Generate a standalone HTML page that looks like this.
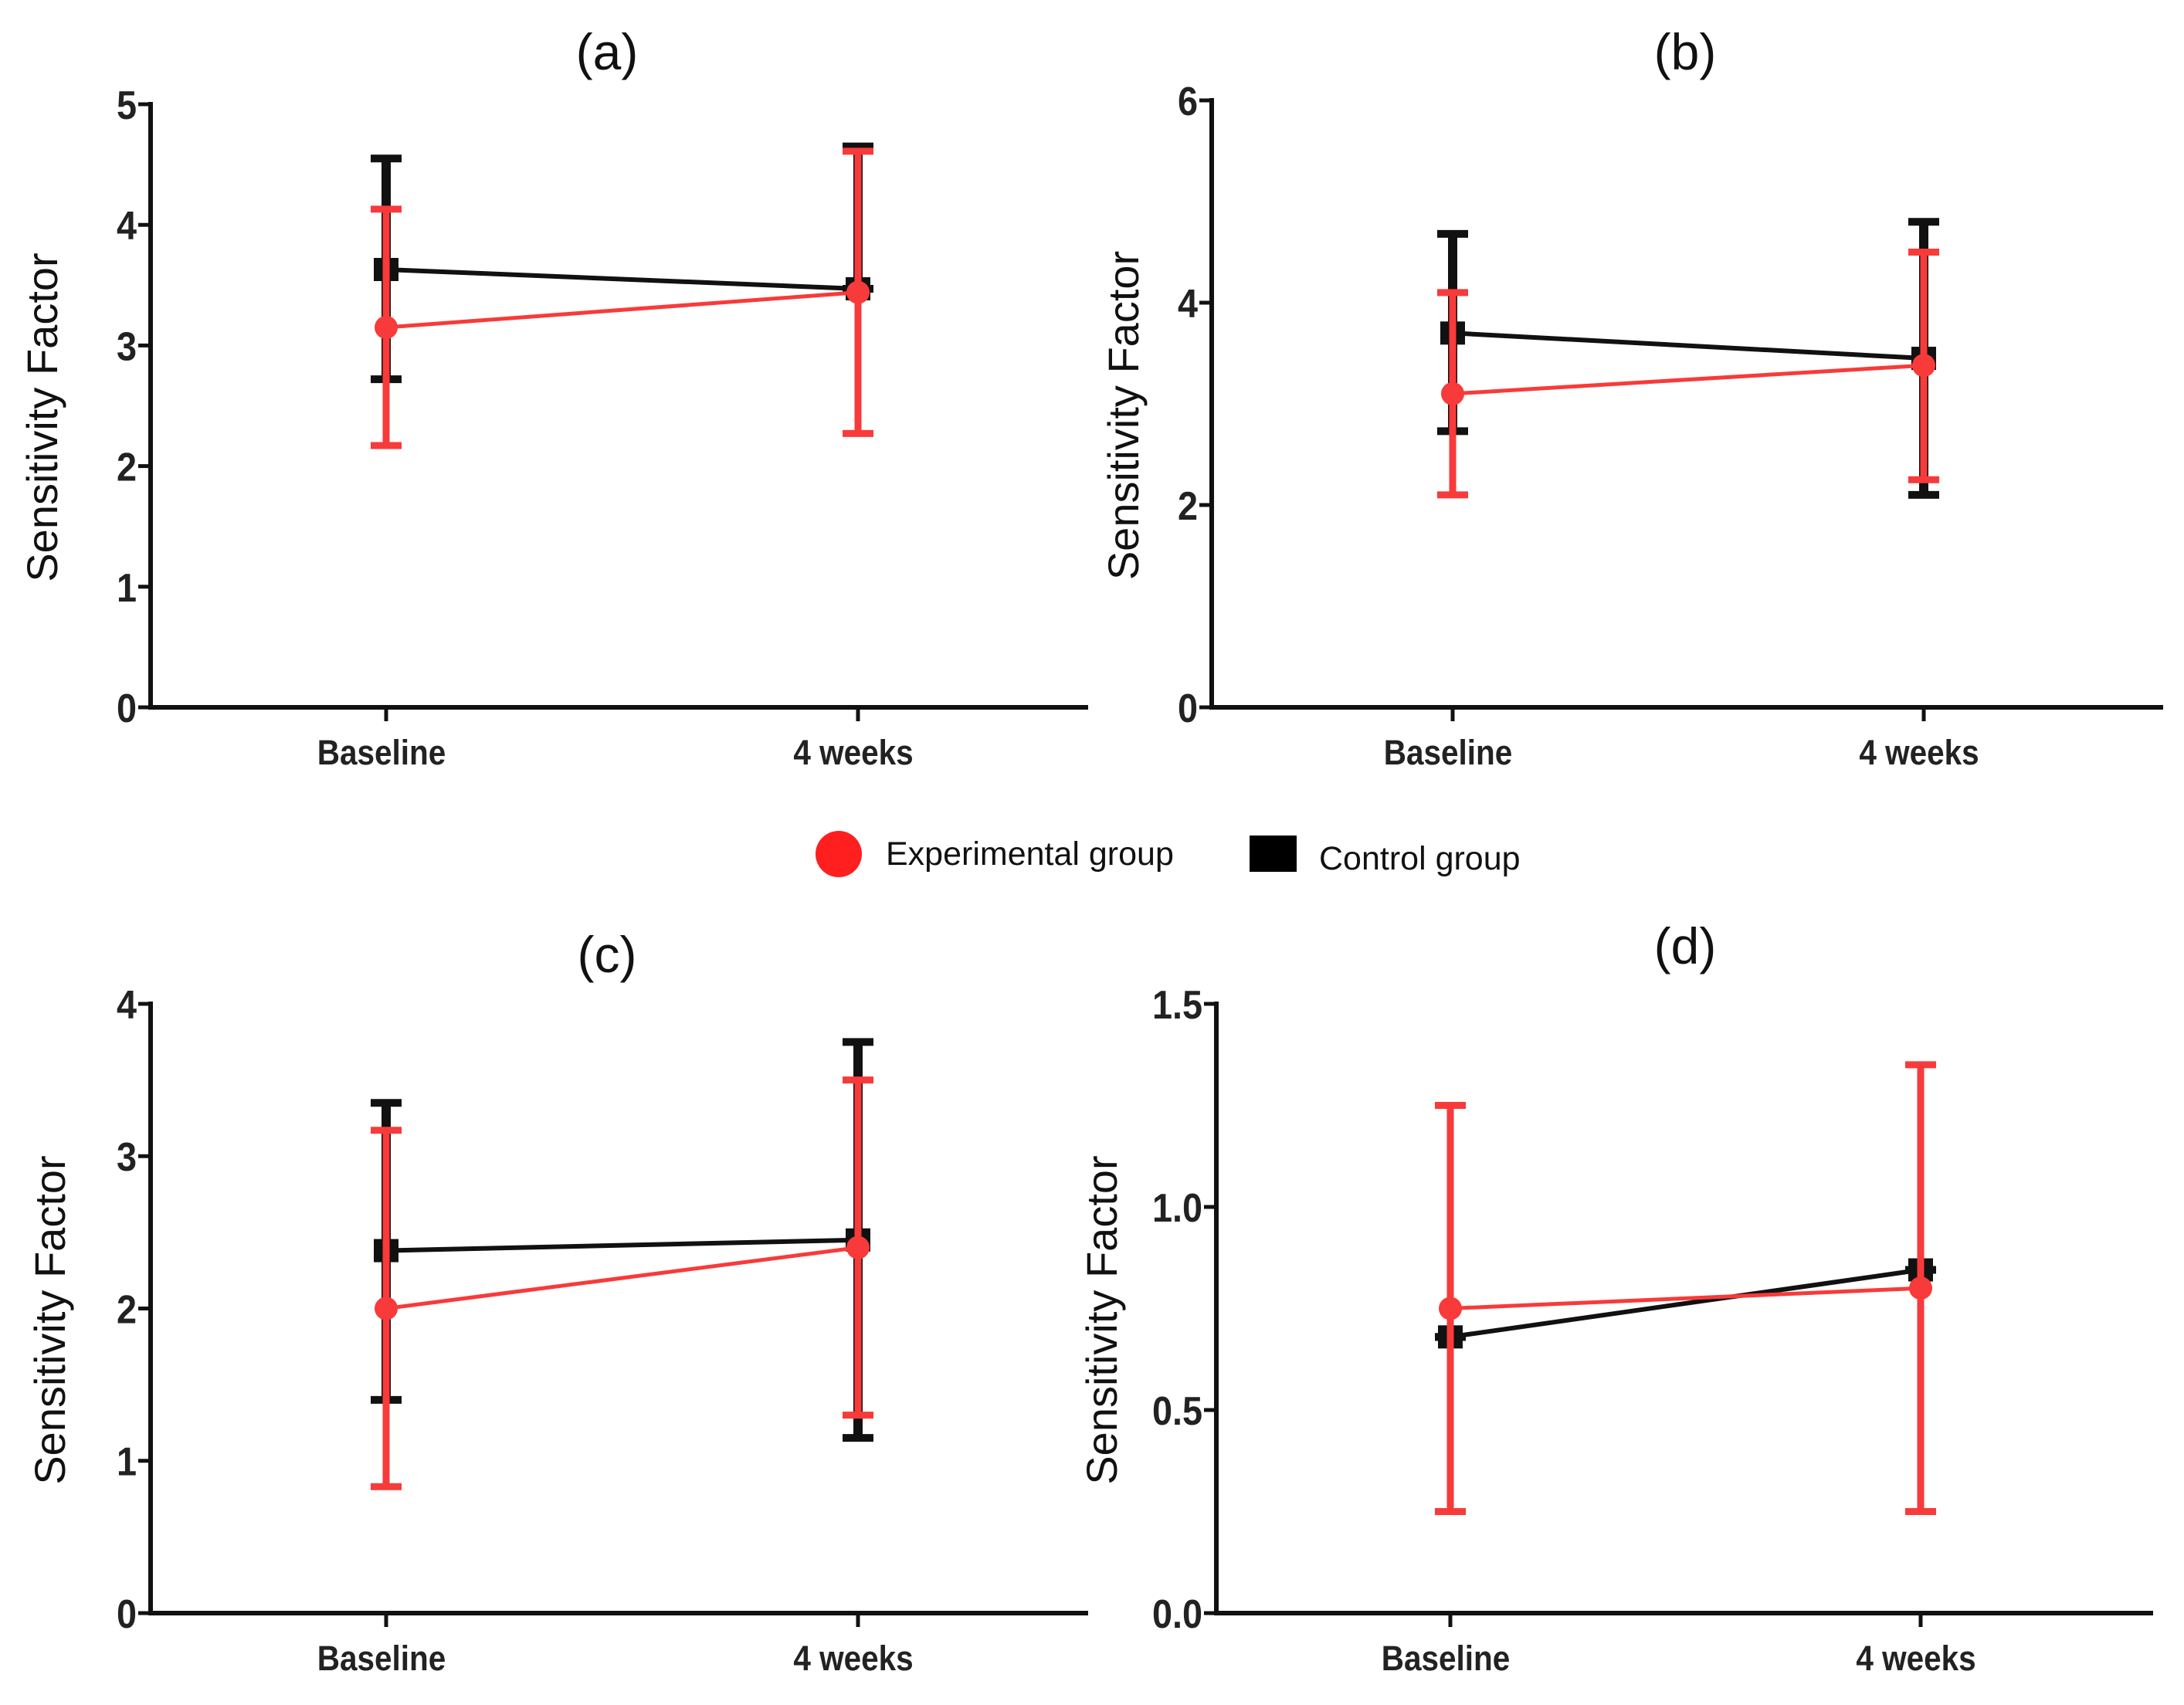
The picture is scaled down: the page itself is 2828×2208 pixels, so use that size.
<!DOCTYPE html>
<html><head><meta charset="utf-8"><style>
html,body{margin:0;padding:0;background:#fff;}
svg{display:block;}
text{font-family:"Liberation Sans",sans-serif;}
</style></head><body>
<svg id="fig" width="2828" height="2208" viewBox="0 0 2828 2208" xmlns="http://www.w3.org/2000/svg">
<g id="legend">
  <circle cx="1086" cy="1106" r="30" fill="#ff1f1f"/>
  <text x="1147" y="1120" font-size="43" fill="#111">Experimental group</text>
  <rect x="1618" y="1082" width="61" height="47" fill="#000"/>
  <text x="1708" y="1126" font-size="43" fill="#111">Control group</text>
</g>
</svg>
<script>
const categories = ["Baseline", "4 weeks"];
const aExpMean = [3.15, 3.44], aExpLo = [2.17, 2.27], aExpHi = [4.13, 4.61];
const aCtlMean = [3.63, 3.47], aCtlLo = [2.72, 3.47], aCtlHi = [4.55, 4.65];
const aTicks = [0, 1, 2, 3, 4, 5];
const bExpMean = [3.1, 3.38], bExpLo = [2.1, 2.25], bExpHi = [4.1, 4.5];
const bCtlMean = [3.7, 3.45], bCtlLo = [2.73, 2.1], bCtlHi = [4.68, 4.8];
const bTicks = [0, 2, 4, 6];
const cExpMean = [2.0, 2.4], cExpLo = [0.83, 1.3], cExpHi = [3.17, 3.5];
const cCtlMean = [2.38, 2.45], cCtlLo = [1.4, 1.15], cCtlHi = [3.35, 3.75];
const cTicks = [0, 1, 2, 3, 4];
const dExpMean = [0.75, 0.80], dExpLo = [0.25, 0.25], dExpHi = [1.25, 1.35];
const dCtlMean = [0.68, 0.845], dCtlLo = [0.68, 0.845], dCtlHi = [0.68, 0.845];
const dTickLabels = ["0.0", "0.5", "1.0", "1.5"];
const dTicks = [0, 0.5, 1.0, 1.5];
const panelTitles = ["(a)", "(b)", "(c)", "(d)"];

const NS = "http://www.w3.org/2000/svg";
const svg = document.getElementById("fig");
const RED = "#f83a3a";
function mk(tag, attrs, parent) {
  const e = document.createElementNS(NS, tag);
  for (const k in attrs) e.setAttribute(k, attrs[k]);
  parent.appendChild(e);
  return e;
}
function panel(id, box, ticks, tickLabels, exp, ctl, title) {
  const g = mk("g", {}, svg);
  
  
  const ymax = ticks[ticks.length - 1];
  const Y = v => box.y0 - (v / ymax) * (box.y0 - box.yTop);
  const X = i => box.cx[i];
  const t = mk("text", {x: box.tx, y: box.ty, "font-size": 66, "text-anchor": "middle", fill: "#111"}, g);
  t.textContent = title;
  
  
  const yl = mk("text", {x: 0, y: 0, "font-size": 56, "text-anchor": "middle", fill: "#111",
    transform: `translate(${box.ylx},${(box.yTop + box.y0) / 2 + 15}) rotate(-90)`}, g);
  yl.textContent = "Sensitivity  Factor";
  
  
  const ya = mk("line", {x1: box.ax, y1: Y(ymax) - 3, x2: box.ax, y2: box.y0 + 3, stroke: "#111", "stroke-width": 6}, g);
  
  
  const xa = mk("line", {x1: box.ax - 3, y1: box.y0, x2: box.axEnd, y2: box.y0, stroke: "#111", "stroke-width": 6}, g);
  
  
  ticks.forEach((v, i) => {
    mk("line", {x1: box.ax - 16, y1: Y(v), x2: box.ax, y2: Y(v), stroke: "#111", "stroke-width": 5}, g);
    const tl = mk("text", {x: (box.ax - 18) / 0.9, y: Y(v) + 19, "font-size": 52, "font-weight": "bold", "text-anchor": "end", fill: "#222",
      transform: `scale(0.9,1)`}, g);
    tl.textContent = tickLabels[i];
    
    
  });
  categories.forEach((c, i) => {
    mk("line", {x1: X(i), y1: box.y0, x2: X(i), y2: box.y0 + 18, stroke: "#111", "stroke-width": 5}, g);
    const xl = mk("text", {x: (X(i) - 6) / 0.9, y: box.y0 + 74, "font-size": 45, "font-weight": "bold", "text-anchor": "middle", fill: "#222",
      transform: `scale(0.9,1)`}, g);
    xl.textContent = c;
    
    
  });
  const cl = mk("polyline", {points: categories.map((c, i) => X(i) + "," + Y(ctl[0][i])).join(" "), fill: "none", stroke: "#111", "stroke-width": 6}, g);
  
  
  categories.forEach((c, i) => {
    const eb = mk("g", {}, g);
    
    
    mk("line", {x1: X(i), y1: Y(ctl[1][i]), x2: X(i), y2: Y(ctl[2][i]), stroke: "#111", "stroke-width": 12}, eb);
    [ctl[1][i], ctl[2][i]].forEach(v => mk("line", {x1: X(i) - 20, y1: Y(v), x2: X(i) + 20, y2: Y(v), stroke: "#111", "stroke-width": 10}, eb));
    const sq = mk("rect", {x: X(i) - 16, y: Y(ctl[0][i]) - 15, width: 32, height: 30, fill: "#111"}, g);
    
    
  });
  const el = mk("polyline", {points: categories.map((c, i) => X(i) + "," + Y(exp[0][i])).join(" "), fill: "none", stroke: RED, "stroke-width": 5}, g);
  
  
  categories.forEach((c, i) => {
    const eb = mk("g", {}, g);
    
    
    mk("line", {x1: X(i), y1: Y(exp[1][i]), x2: X(i), y2: Y(exp[2][i]), stroke: RED, "stroke-width": 9}, eb);
    [exp[1][i], exp[2][i]].forEach(v => mk("line", {x1: X(i) - 20, y1: Y(v), x2: X(i) + 20, y2: Y(v), stroke: RED, "stroke-width": 9}, eb));
    const pt = mk("circle", {cx: X(i), cy: Y(exp[0][i]), r: 15, fill: RED}, g);
    
    
  });
}
panel("a", {ax: 195, axEnd: 1409, y0: 916, yTop: 135, cx: [500, 1111], tx: 786, ty: 90, ylx: 74},
  aTicks, aTicks.map(String), [aExpMean, aExpLo, aExpHi], [aCtlMean, aCtlLo, aCtlHi], panelTitles[0]);
panel("b", {ax: 1569, axEnd: 2801, y0: 916, yTop: 130, cx: [1881, 2491], tx: 2182, ty: 90, ylx: 1474},
  bTicks, bTicks.map(String), [bExpMean, bExpLo, bExpHi], [bCtlMean, bCtlLo, bCtlHi], panelTitles[1]);
panel("c", {ax: 195, axEnd: 1409, y0: 2089, yTop: 1300, cx: [500, 1111], tx: 786, ty: 1259, ylx: 84},
  cTicks, cTicks.map(String), [cExpMean, cExpLo, cExpHi], [cCtlMean, cCtlLo, cCtlHi], panelTitles[2]);
panel("d", {ax: 1575, axEnd: 2788, y0: 2089, yTop: 1300, cx: [1878, 2487], tx: 2182, ty: 1248, ylx: 1446},
  dTicks, dTickLabels, [dExpMean, dExpLo, dExpHi], [dCtlMean, dCtlLo, dCtlHi], panelTitles[3]);
</script>
</body></html>
